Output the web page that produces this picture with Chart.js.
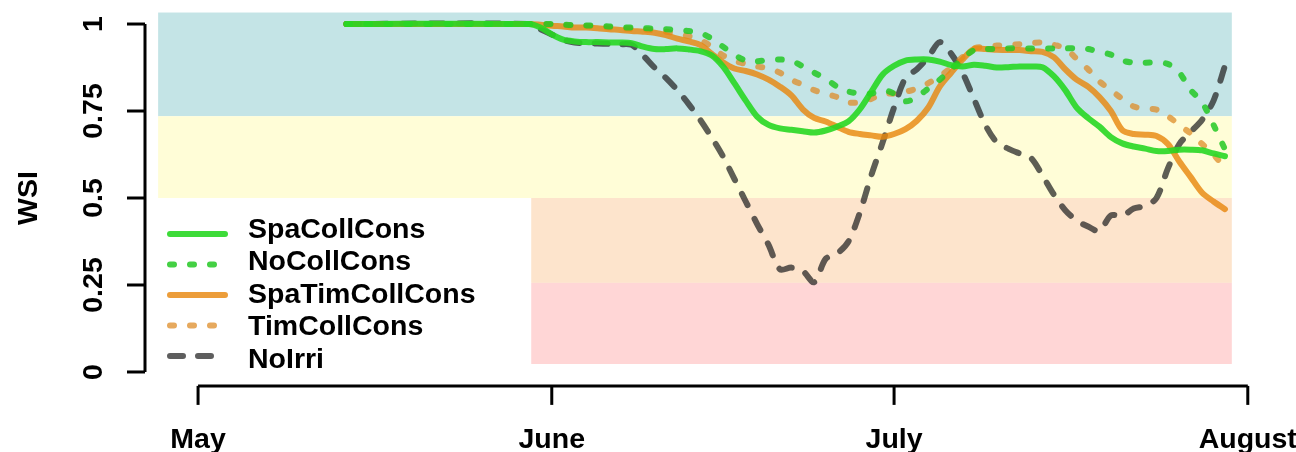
<!DOCTYPE html>
<html><head><meta charset="utf-8">
<script src="https://cdn.jsdelivr.net/npm/chart.js@4.4.0/dist/chart.umd.min.js"></script>
<style>html,body{margin:0;padding:0;background:#fff;}canvas{display:block;}</style>
</head><body>
<canvas id="c" width="1296" height="452"></canvas>
<script>
// x values: days since May 1
const days = [13,29,30,31,32,33,34,35,36,37,38,39,40,41,42,43,44,45,46,47,48,49,50,51,52,53,54,55,56,57,58,59,60,61,62,63,64,65,66,67,68,69,70,71,72,73,74,75,76,77,78,79,80,81,82,83,84,85,86,87,88,89,90];
const spaCollCons = [1,1,0.99,0.97,0.955,0.95,0.948,0.948,0.947,0.947,0.945,0.935,0.928,0.928,0.93,0.927,0.922,0.91,0.878,0.83,0.78,0.734,0.71,0.70,0.696,0.692,0.688,0.694,0.705,0.72,0.755,0.805,0.855,0.88,0.895,0.898,0.898,0.892,0.882,0.878,0.883,0.88,0.875,0.876,0.878,0.878,0.876,0.85,0.81,0.76,0.73,0.705,0.675,0.657,0.648,0.642,0.635,0.635,0.639,0.639,0.637,0.628,0.62];
const noCollCons = [1,1,1,1,0.998,0.997,0.996,0.995,0.993,0.99,0.99,0.988,0.987,0.985,0.983,0.98,0.975,0.958,0.935,0.912,0.895,0.893,0.897,0.898,0.895,0.878,0.86,0.843,0.82,0.806,0.80,0.80,0.81,0.80,0.778,0.79,0.815,0.84,0.87,0.90,0.925,0.928,0.928,0.93,0.93,0.93,0.93,0.93,0.93,0.93,0.928,0.92,0.912,0.895,0.889,0.889,0.889,0.885,0.86,0.81,0.775,0.71,0.64];
const spaTimCollCons = [1,1,0.998,0.995,0.993,0.99,0.99,0.988,0.985,0.983,0.98,0.978,0.975,0.968,0.958,0.95,0.94,0.915,0.89,0.872,0.865,0.855,0.84,0.82,0.795,0.755,0.73,0.72,0.705,0.69,0.684,0.68,0.676,0.684,0.698,0.722,0.76,0.82,0.86,0.898,0.928,0.928,0.926,0.925,0.925,0.922,0.92,0.905,0.87,0.84,0.82,0.79,0.75,0.695,0.684,0.682,0.678,0.655,0.605,0.56,0.515,0.49,0.468];
const timCollCons = [1,1,1,0.998,0.997,0.995,0.994,0.993,0.99,0.988,0.986,0.984,0.982,0.978,0.972,0.965,0.955,0.935,0.91,0.895,0.885,0.878,0.872,0.86,0.84,0.825,0.81,0.80,0.79,0.775,0.775,0.785,0.80,0.80,0.805,0.815,0.83,0.85,0.875,0.905,0.93,0.935,0.938,0.94,0.942,0.945,0.947,0.94,0.93,0.90,0.87,0.835,0.81,0.785,0.763,0.757,0.754,0.735,0.71,0.685,0.655,0.625,0.585];
const noIrri = [1,1,0.985,0.97,0.955,0.947,0.945,0.944,0.943,0.942,0.94,0.91,0.875,0.845,0.81,0.77,0.725,0.675,0.62,0.555,0.49,0.425,0.365,0.295,0.30,0.29,0.258,0.325,0.34,0.375,0.458,0.565,0.66,0.76,0.845,0.87,0.905,0.948,0.915,0.86,0.785,0.71,0.66,0.642,0.628,0.615,0.565,0.51,0.465,0.435,0.418,0.405,0.45,0.448,0.47,0.477,0.50,0.585,0.655,0.69,0.725,0.78,0.88];

const seriesNames = ['SpaCollCons','NoCollCons','SpaTimCollCons','TimCollCons','NoIrri'];
const monthTickDays = [0,31,61,92];
const monthTickLabels = ['May','June','July','August'];
const wsiTicks = [0,0.25,0.5,0.75,1];
const wsiTickLabels = ['0','0.25','0.5','0.75','1'];
// WSI class bands
const bandLower = [0.735,0.5,0.256,0.023];
const bandUpper = [1.033,0.735,0.5,0.256];
const bandStartDay = [-3.5,-3.5,29.2,29.2];
const bandEndDay = [90.6,90.6,90.6,90.6];

const bandColors = ['#c4e4e6','#fffdd7','#fde4cc','#ffd6d6'];
const styles = [
  {color:'rgba(40,215,35,0.9)', dash:[], cap:'round'},
  {color:'rgba(35,200,35,0.85)', dash:[4,16], cap:'round'},
  {color:'rgba(232,135,15,0.82)', dash:[], cap:'round'},
  {color:'rgba(222,140,40,0.75)', dash:[4,16], cap:'round'},
  {color:'rgba(40,40,40,0.75)', dash:[13,15], cap:'round'}
];
const seriesValues = [spaCollCons,noCollCons,spaTimCollCons,timCollCons,noIrri];
const FONT = 'bold 28.5px "Liberation Sans", Arial, Helvetica, sans-serif';

const datasets = seriesNames.map((n,i)=>({
  label:n,
  data: days.map((d,j)=>({x:d,y:seriesValues[i][j]})),
  borderColor: styles[i].color,
  borderWidth: 6,
  borderDash: styles[i].dash,
  borderCapStyle: styles[i].cap,
  borderJoinStyle:'round',
  pointRadius:0,
  tension:0.3,
  fill:false
}));

const decor = {
  id:'decor',
  beforeDatasetsDraw(chart){
    const ctx=chart.ctx, x=chart.scales.x, y=chart.scales.y;
    ctx.save();
    for(let i=0;i<bandLower.length;i++){
      const x0=x.getPixelForValue(bandStartDay[i]), x1=x.getPixelForValue(bandEndDay[i]);
      const y0=y.getPixelForValue(bandUpper[i]), y1=y.getPixelForValue(bandLower[i]);
      ctx.fillStyle=bandColors[i];
      ctx.fillRect(x0,y0,x1-x0,y1-y0);
    }
    ctx.restore();
  },
  afterDraw(chart){
    const ctx=chart.ctx, x=chart.scales.x, y=chart.scales.y, ca=chart.chartArea;
    ctx.save();
    ctx.strokeStyle='#000'; ctx.fillStyle='#000'; ctx.lineWidth=3; ctx.lineCap='butt';
    // y axis
    const ax=ca.left;
    ctx.beginPath();
    ctx.moveTo(ax,y.getPixelForValue(wsiTicks[0]));
    ctx.lineTo(ax,y.getPixelForValue(wsiTicks[wsiTicks.length-1]));
    ctx.stroke();
    ctx.font=FONT;
    wsiTicks.forEach((v,i)=>{
      const py=y.getPixelForValue(v);
      ctx.beginPath(); ctx.moveTo(ax-18,py); ctx.lineTo(ax,py); ctx.stroke();
      ctx.save(); ctx.translate(ax-43,py); ctx.rotate(-Math.PI/2);
      ctx.textAlign='center'; ctx.textBaseline='alphabetic';
      ctx.fillText(wsiTickLabels[i],0,0); ctx.restore();
    });
    ctx.save(); ctx.translate(37,y.getPixelForValue(0.5)); ctx.rotate(-Math.PI/2);
    ctx.textAlign='center'; ctx.textBaseline='alphabetic'; ctx.fillText('WSI',0,0); ctx.restore();
    // x axis
    const ay=ca.bottom;
    ctx.beginPath();
    ctx.moveTo(x.getPixelForValue(monthTickDays[0]),ay);
    ctx.lineTo(x.getPixelForValue(monthTickDays[monthTickDays.length-1]),ay);
    ctx.stroke();
    monthTickDays.forEach((d,i)=>{
      const px=x.getPixelForValue(d);
      ctx.beginPath(); ctx.moveTo(px,ay); ctx.lineTo(px,ay+19); ctx.stroke();
      ctx.textAlign='center'; ctx.textBaseline='alphabetic';
      ctx.fillText(monthTickLabels[i],px,ay+62);
    });
    // legend
    seriesNames.forEach((n,i)=>{
      const ly=234+30.5*i, ty=230+32.5*i;
      ctx.save();
      ctx.strokeStyle=styles[i].color; ctx.lineWidth=6; ctx.lineCap=styles[i].cap;
      ctx.setLineDash(styles[i].dash);
      ctx.beginPath(); ctx.moveTo(170,ly); ctx.lineTo(225,ly); ctx.stroke();
      ctx.restore();
      ctx.textAlign='left'; ctx.textBaseline='middle';
      ctx.fillText(n,248,ty);
    });
    ctx.restore();
  }
};

new Chart(document.getElementById('c'),{
  type:'line',
  data:{datasets},
  options:{
    responsive:false, animation:false,
    layout:{padding:{left:145,right:36.8,top:10.1,bottom:66.1}},
    plugins:{legend:{display:false},tooltip:{enabled:false}},
    scales:{
      x:{type:'linear',min:-4.65,max:93,display:false},
      y:{type:'linear',min:-0.04,max:1.04,display:false}
    }
  },
  plugins:[decor]
});
</script>
</body></html>
